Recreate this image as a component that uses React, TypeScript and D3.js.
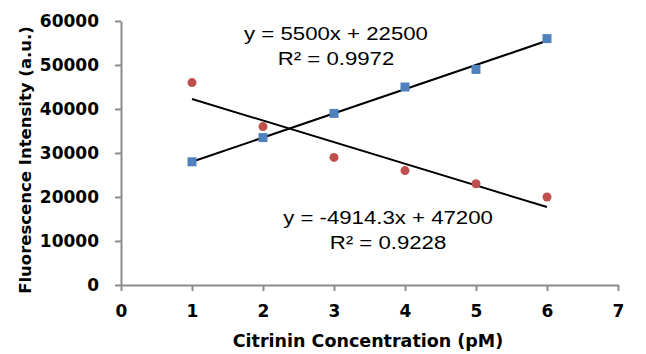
import { useRef, useEffect } from "react";
import * as d3 from "d3";

const concentration = [1, 2, 3, 4, 5, 6];
const blueSeries = [28000, 33500, 39000, 45000, 49000, 56000];
const redSeries = [46000, 36000, 29000, 26000, 23000, 20000];
const xTicks = [0, 1, 2, 3, 4, 5, 6, 7];
const yTicks = [0, 10000, 20000, 30000, 40000, 50000, 60000];
const blueEquation = ["y = 5500x + 22500", "R² = 0.9972"];
const redEquation = ["y = -4914.3x + 47200", "R² = 0.9228"];

// least squares fit, same as excel's linear trendline
const fit = (xs: number[], ys: number[]) => {
  const mx = d3.mean(xs)!,
    my = d3.mean(ys)!;
  const sxy = d3.sum(xs, (x, i) => (x - mx) * (ys[i] - my));
  const sxx = d3.sum(xs, (x) => (x - mx) ** 2);
  const slope = sxy / sxx;
  return { slope, intercept: my - slope * mx };
};

const App = () => {
  let xRef = useRef<SVGGElement>(null),
    yRef = useRef<SVGGElement>(null);
  let width = 646,
    height = 354;

  let xScale = d3.scaleLinear().domain([0, 7]).range([121, 618]),
    yScale = d3.scaleLinear().domain([0, 60000]).range([285, 21]);

  useEffect(() => {
    const styleAxis = (g: d3.Selection<SVGGElement, unknown, null, undefined>) => {
      g.select(".domain").attr("stroke", "#8c8c8c").attr("stroke-width", 2);
      g.selectAll(".tick line").attr("stroke", "#8c8c8c").attr("stroke-width", 2);
      g.selectAll(".tick text")
        .attr("fill", "#000")
        .style("font-family", "DejaVu Sans")
        .style("font-weight", "bold")
        .style("font-size", "17px");
    };
    d3.select(xRef.current!)
      .call(
        d3
          .axisBottom(xScale)
          .tickValues(xTicks)
          .tickFormat(d3.format("d"))
          .tickSize(6)
          .tickSizeOuter(0)
          .tickPadding(14)
      )
      .call(styleAxis);
    d3.select(yRef.current!)
      .call(
        d3
          .axisLeft(yScale)
          .tickValues(yTicks)
          .tickFormat(d3.format("d"))
          .tickSize(6)
          .tickSizeOuter(0)
          .tickPadding(16)
      )
      .call(styleAxis);
  }, []);

  const blueFit = fit(concentration, blueSeries);
  const redFit = fit(concentration, redSeries);
  const xEnds = d3.extent(concentration) as [number, number];

  const fitLine = (f: { slope: number; intercept: number }) =>
    d3
      .line<number>()
      .x((x) => xScale(x))
      .y((x) => yScale(f.slope * x + f.intercept))(xEnds);

  const eqStyle = {
    fontFamily: "Liberation Sans",
    fontSize: "18.5px",
  };

  return (
    <svg
      width={width}
      height={height}
      style={{ position: "absolute", left: 0, top: 0, background: "#fff" }}
    >
      <g ref={yRef} transform={`translate(${xScale(0)},0)`} />
      <g ref={xRef} transform={`translate(0,${yScale(0)})`} />

      <path d={fitLine(blueFit)!} stroke="#000" strokeWidth={2} fill="none" />
      <path d={fitLine(redFit)!} stroke="#000" strokeWidth={2} fill="none" />

      {concentration.map((c, i) => (
        <rect
          key={"b" + i}
          x={xScale(c) - 4.5}
          y={yScale(blueSeries[i]) - 4.5}
          width={9}
          height={9}
          fill="#4f81bd"
        />
      ))}
      {concentration.map((c, i) => (
        <circle
          key={"r" + i}
          cx={xScale(c)}
          cy={yScale(redSeries[i])}
          r={4.5}
          fill="#c0504d"
        />
      ))}

      <g style={eqStyle} textAnchor="middle" fill="#000">
        <text transform="translate(336,40) scale(1.2,1)">{blueEquation[0]}</text>
        <text transform="translate(336,65) scale(1.2,1)">{blueEquation[1]}</text>
        <text transform="translate(388,224) scale(1.2,1)">{redEquation[0]}</text>
        <text transform="translate(388,249) scale(1.2,1)">{redEquation[1]}</text>
      </g>

      <text
        x={368}
        y={347}
        textAnchor="middle"
        style={{ fontFamily: "DejaVu Sans", fontWeight: "bold", fontSize: "17.5px" }}
      >
        Citrinin Concentration (pM)
      </text>
      <text
        transform="translate(31,160) rotate(-90)"
        textAnchor="middle"
        style={{ fontFamily: "DejaVu Sans", fontWeight: "bold", fontSize: "16.5px" }}
      >
        Fluorescence Intensity (a.u.)
      </text>
    </svg>
  );
};

export default App;
